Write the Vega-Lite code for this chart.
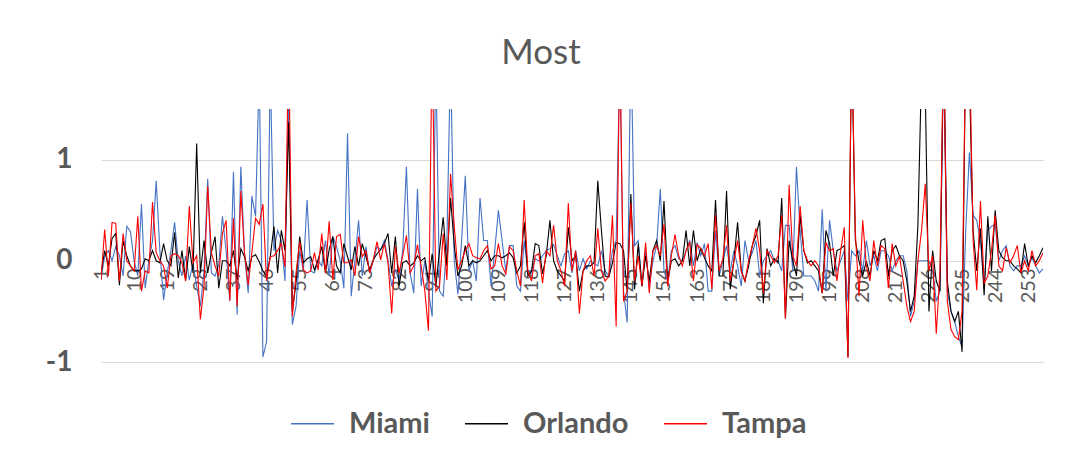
{
  "$schema": "https://vega.github.io/schema/vega-lite/v6.json",
  "width": 942,
  "height": 253,
  "autosize": {"type": "none"},
  "padding": {"left": 101, "top": 109, "right": 27, "bottom": 101},
  "background": "white",
  "config": {"view": {"stroke": null}, "font": "Lato"},
  "title": {"text": "Most", "fontSize": 35, "font": "Lato", "fontWeight": "normal", "color": "#595959", "offset": 38, "dx": -31},
  "data": {"values": [
{"i":1,"Miami":-0.19,"Orlando":-0.12,"Tampa":-0.19},
{"i":2,"Miami":0.05,"Orlando":0.1,"Tampa":0.31},
{"i":3,"Miami":0.1,"Orlando":-0.05,"Tampa":-0.15},
{"i":4,"Miami":0.0,"Orlando":0.22,"Tampa":0.38},
{"i":5,"Miami":0.14,"Orlando":0.27,"Tampa":0.37},
{"i":6,"Miami":0.05,"Orlando":-0.24,"Tampa":-0.2},
{"i":7,"Miami":-0.15,"Orlando":0.2,"Tampa":0.27},
{"i":8,"Miami":0.34,"Orlando":0.05,"Tampa":0.0},
{"i":9,"Miami":0.29,"Orlando":-0.05,"Tampa":-0.05},
{"i":10,"Miami":0.0,"Orlando":-0.1,"Tampa":-0.1},
{"i":11,"Miami":-0.15,"Orlando":-0.1,"Tampa":0.44},
{"i":12,"Miami":0.56,"Orlando":-0.08,"Tampa":-0.3},
{"i":13,"Miami":-0.27,"Orlando":0.02,"Tampa":-0.1},
{"i":14,"Miami":0.0,"Orlando":0.0,"Tampa":-0.12},
{"i":15,"Miami":0.2,"Orlando":0.1,"Tampa":0.58},
{"i":16,"Miami":0.79,"Orlando":0.0,"Tampa":0.08},
{"i":17,"Miami":0.1,"Orlando":-0.02,"Tampa":0.0},
{"i":18,"Miami":-0.39,"Orlando":0.17,"Tampa":-0.05},
{"i":19,"Miami":-0.12,"Orlando":0.0,"Tampa":-0.27},
{"i":20,"Miami":0.1,"Orlando":-0.05,"Tampa":0.05},
{"i":21,"Miami":0.38,"Orlando":0.28,"Tampa":0.07},
{"i":22,"Miami":0.0,"Orlando":-0.17,"Tampa":0.05},
{"i":23,"Miami":-0.15,"Orlando":0.1,"Tampa":-0.02},
{"i":24,"Miami":0.05,"Orlando":-0.19,"Tampa":-0.2},
{"i":25,"Miami":-0.19,"Orlando":0.14,"Tampa":0.54},
{"i":26,"Miami":-0.03,"Orlando":-0.12,"Tampa":-0.02},
{"i":27,"Miami":-0.25,"Orlando":1.16,"Tampa":0.05},
{"i":28,"Miami":-0.45,"Orlando":-0.12,"Tampa":-0.58},
{"i":29,"Miami":-0.1,"Orlando":0.2,"Tampa":-0.25},
{"i":30,"Miami":0.81,"Orlando":-0.12,"Tampa":0.74},
{"i":31,"Miami":-0.12,"Orlando":0.08,"Tampa":0.08},
{"i":32,"Miami":-0.15,"Orlando":0.24,"Tampa":-0.05},
{"i":33,"Miami":-0.04,"Orlando":-0.27,"Tampa":-0.15},
{"i":34,"Miami":0.44,"Orlando":0.0,"Tampa":0.27},
{"i":35,"Miami":0.1,"Orlando":0.0,"Tampa":0.4},
{"i":36,"Miami":-0.4,"Orlando":-0.05,"Tampa":-0.39},
{"i":37,"Miami":0.88,"Orlando":0.1,"Tampa":0.42},
{"i":38,"Miami":-0.53,"Orlando":-0.19,"Tampa":-0.45},
{"i":39,"Miami":0.93,"Orlando":0.12,"Tampa":0.69},
{"i":40,"Miami":0.07,"Orlando":0.04,"Tampa":0.08},
{"i":41,"Miami":-0.32,"Orlando":-0.1,"Tampa":-0.24},
{"i":42,"Miami":0.64,"Orlando":0.04,"Tampa":0.08},
{"i":43,"Miami":0.44,"Orlando":0.06,"Tampa":0.42},
{"i":44,"Miami":1.9,"Orlando":-0.01,"Tampa":0.36},
{"i":45,"Miami":-0.95,"Orlando":-0.1,"Tampa":0.56},
{"i":46,"Miami":-0.8,"Orlando":-0.15,"Tampa":-0.2},
{"i":47,"Miami":1.9,"Orlando":0.04,"Tampa":0.04},
{"i":48,"Miami":0.1,"Orlando":0.34,"Tampa":0.05},
{"i":49,"Miami":0.3,"Orlando":-0.12,"Tampa":0.1},
{"i":50,"Miami":0.2,"Orlando":0.3,"Tampa":0.17},
{"i":51,"Miami":-0.2,"Orlando":0.1,"Tampa":-0.06},
{"i":52,"Miami":1.7,"Orlando":1.37,"Tampa":2.2},
{"i":53,"Miami":-0.63,"Orlando":-0.5,"Tampa":-0.55},
{"i":54,"Miami":-0.45,"Orlando":-0.22,"Tampa":-0.12},
{"i":55,"Miami":0.1,"Orlando":0.24,"Tampa":0.19},
{"i":56,"Miami":-0.1,"Orlando":-0.02,"Tampa":-0.09},
{"i":57,"Miami":0.6,"Orlando":0.02,"Tampa":-0.12},
{"i":58,"Miami":-0.1,"Orlando":0.04,"Tampa":-0.1},
{"i":59,"Miami":-0.12,"Orlando":-0.09,"Tampa":0.08},
{"i":60,"Miami":0.0,"Orlando":0.01,"Tampa":-0.09},
{"i":61,"Miami":-0.05,"Orlando":0.14,"Tampa":0.27},
{"i":62,"Miami":0.2,"Orlando":-0.12,"Tampa":-0.12},
{"i":63,"Miami":-0.15,"Orlando":0.11,"Tampa":0.39},
{"i":64,"Miami":0.24,"Orlando":0.24,"Tampa":-0.19},
{"i":65,"Miami":0.14,"Orlando":-0.05,"Tampa":0.24},
{"i":66,"Miami":0.0,"Orlando":-0.12,"Tampa":0.26},
{"i":67,"Miami":-0.27,"Orlando":0.17,"Tampa":-0.02},
{"i":68,"Miami":1.26,"Orlando":0.04,"Tampa":-0.02},
{"i":69,"Miami":-0.35,"Orlando":-0.09,"Tampa":0.01},
{"i":70,"Miami":0.0,"Orlando":0.14,"Tampa":-0.15},
{"i":71,"Miami":0.4,"Orlando":-0.05,"Tampa":0.24},
{"i":72,"Miami":-0.15,"Orlando":0.17,"Tampa":0.04},
{"i":73,"Miami":0.14,"Orlando":0.04,"Tampa":0.1},
{"i":74,"Miami":-0.12,"Orlando":-0.09,"Tampa":-0.12},
{"i":75,"Miami":0.0,"Orlando":0.01,"Tampa":0.01},
{"i":76,"Miami":0.14,"Orlando":0.07,"Tampa":0.19},
{"i":77,"Miami":0.11,"Orlando":0.11,"Tampa":0.01},
{"i":78,"Miami":0.2,"Orlando":0.17,"Tampa":0.17},
{"i":79,"Miami":0.01,"Orlando":0.27,"Tampa":-0.02},
{"i":80,"Miami":-0.25,"Orlando":-0.12,"Tampa":-0.52},
{"i":81,"Miami":-0.09,"Orlando":0.24,"Tampa":0.14},
{"i":82,"Miami":-0.19,"Orlando":-0.25,"Tampa":-0.12},
{"i":83,"Miami":0.1,"Orlando":-0.02,"Tampa":0.05},
{"i":84,"Miami":0.93,"Orlando":0.0,"Tampa":0.25},
{"i":85,"Miami":-0.12,"Orlando":-0.05,"Tampa":-0.12},
{"i":86,"Miami":-0.32,"Orlando":-0.02,"Tampa":-0.05},
{"i":87,"Miami":0.71,"Orlando":0.05,"Tampa":0.16},
{"i":88,"Miami":-0.25,"Orlando":0.0,"Tampa":-0.05},
{"i":89,"Miami":0.0,"Orlando":0.03,"Tampa":-0.3},
{"i":90,"Miami":-0.3,"Orlando":-0.2,"Tampa":-0.69},
{"i":91,"Miami":-0.55,"Orlando":0.07,"Tampa":2.2},
{"i":92,"Miami":2.0,"Orlando":-0.25,"Tampa":-0.3},
{"i":93,"Miami":-0.3,"Orlando":0.1,"Tampa":-0.25},
{"i":94,"Miami":-0.35,"Orlando":0.43,"Tampa":0.27},
{"i":95,"Miami":0.2,"Orlando":-0.05,"Tampa":-0.19},
{"i":96,"Miami":2.0,"Orlando":0.62,"Tampa":0.86},
{"i":97,"Miami":0.0,"Orlando":0.15,"Tampa":0.34},
{"i":98,"Miami":-0.33,"Orlando":-0.15,"Tampa":-0.09},
{"i":99,"Miami":0.2,"Orlando":-0.05,"Tampa":0.0},
{"i":100,"Miami":0.84,"Orlando":0.15,"Tampa":0.1},
{"i":101,"Miami":-0.1,"Orlando":-0.05,"Tampa":0.17},
{"i":102,"Miami":0.0,"Orlando":0.0,"Tampa":0.05},
{"i":103,"Miami":-0.2,"Orlando":-0.02,"Tampa":0.03},
{"i":104,"Miami":0.62,"Orlando":0.0,"Tampa":0.02},
{"i":105,"Miami":0.2,"Orlando":0.05,"Tampa":0.1},
{"i":106,"Miami":0.2,"Orlando":0.1,"Tampa":0.15},
{"i":107,"Miami":-0.25,"Orlando":0.0,"Tampa":-0.08},
{"i":108,"Miami":0.1,"Orlando":0.05,"Tampa":-0.05},
{"i":109,"Miami":0.5,"Orlando":0.05,"Tampa":0.17},
{"i":110,"Miami":0.2,"Orlando":0.03,"Tampa":-0.05},
{"i":111,"Miami":-0.1,"Orlando":0.05,"Tampa":-0.13},
{"i":112,"Miami":0.15,"Orlando":0.08,"Tampa":0.14},
{"i":113,"Miami":0.15,"Orlando":0.03,"Tampa":0.1},
{"i":114,"Miami":-0.25,"Orlando":-0.12,"Tampa":-0.1},
{"i":115,"Miami":-0.3,"Orlando":-0.05,"Tampa":-0.25},
{"i":116,"Miami":0.2,"Orlando":0.38,"Tampa":0.6},
{"i":117,"Miami":-0.1,"Orlando":-0.15,"Tampa":-0.1},
{"i":118,"Miami":-0.1,"Orlando":-0.1,"Tampa":-0.2},
{"i":119,"Miami":0.02,"Orlando":0.17,"Tampa":0.05},
{"i":120,"Miami":0.0,"Orlando":0.15,"Tampa":0.07},
{"i":121,"Miami":0.05,"Orlando":-0.13,"Tampa":-0.22},
{"i":122,"Miami":0.1,"Orlando":0.05,"Tampa":0.1},
{"i":123,"Miami":0.12,"Orlando":0.4,"Tampa":0.05},
{"i":124,"Miami":0.16,"Orlando":0.0,"Tampa":0.35},
{"i":125,"Miami":0.05,"Orlando":-0.1,"Tampa":0.0},
{"i":126,"Miami":-0.05,"Orlando":-0.15,"Tampa":-0.1},
{"i":127,"Miami":0.07,"Orlando":-0.2,"Tampa":-0.25},
{"i":128,"Miami":0.1,"Orlando":0.33,"Tampa":0.57},
{"i":129,"Miami":-0.12,"Orlando":0.0,"Tampa":-0.1},
{"i":130,"Miami":0.1,"Orlando":0.05,"Tampa":0.1},
{"i":131,"Miami":-0.1,"Orlando":-0.3,"Tampa":-0.52},
{"i":132,"Miami":0.02,"Orlando":-0.1,"Tampa":-0.1},
{"i":133,"Miami":-0.08,"Orlando":-0.05,"Tampa":0.0},
{"i":134,"Miami":0.0,"Orlando":-0.05,"Tampa":0.05},
{"i":135,"Miami":-0.03,"Orlando":-0.02,"Tampa":-0.15},
{"i":136,"Miami":-0.05,"Orlando":0.79,"Tampa":0.32},
{"i":137,"Miami":0.1,"Orlando":0.3,"Tampa":-0.1},
{"i":138,"Miami":-0.1,"Orlando":-0.15,"Tampa":-0.2},
{"i":139,"Miami":-0.15,"Orlando":-0.16,"Tampa":-0.15},
{"i":140,"Miami":0.1,"Orlando":-0.02,"Tampa":0.45},
{"i":141,"Miami":0.2,"Orlando":0.18,"Tampa":-0.65},
{"i":142,"Miami":2.0,"Orlando":0.17,"Tampa":2.2},
{"i":143,"Miami":-0.3,"Orlando":0.1,"Tampa":-0.4},
{"i":144,"Miami":-0.61,"Orlando":-0.3,"Tampa":-0.3},
{"i":145,"Miami":2.2,"Orlando":0.66,"Tampa":0.57},
{"i":146,"Miami":0.15,"Orlando":-0.28,"Tampa":-0.2},
{"i":147,"Miami":0.2,"Orlando":0.17,"Tampa":0.05},
{"i":148,"Miami":-0.25,"Orlando":-0.25,"Tampa":-0.25},
{"i":149,"Miami":0.1,"Orlando":0.05,"Tampa":0.18},
{"i":150,"Miami":-0.25,"Orlando":-0.2,"Tampa":-0.32},
{"i":151,"Miami":0.0,"Orlando":0.1,"Tampa":0.1},
{"i":152,"Miami":0.15,"Orlando":0.2,"Tampa":0.15},
{"i":153,"Miami":0.71,"Orlando":0.0,"Tampa":0.05},
{"i":154,"Miami":-0.1,"Orlando":0.59,"Tampa":0.36},
{"i":155,"Miami":-0.2,"Orlando":-0.2,"Tampa":-0.25},
{"i":156,"Miami":0.1,"Orlando":0.0,"Tampa":0.05},
{"i":157,"Miami":0.15,"Orlando":0.02,"Tampa":0.26},
{"i":158,"Miami":0.02,"Orlando":-0.05,"Tampa":0.05},
{"i":159,"Miami":0.0,"Orlando":0.0,"Tampa":-0.05},
{"i":160,"Miami":0.1,"Orlando":0.3,"Tampa":0.1},
{"i":161,"Miami":0.2,"Orlando":-0.05,"Tampa":0.18},
{"i":162,"Miami":-0.05,"Orlando":0.3,"Tampa":-0.2},
{"i":163,"Miami":0.18,"Orlando":0.0,"Tampa":0.16},
{"i":164,"Miami":0.05,"Orlando":0.12,"Tampa":0.12},
{"i":165,"Miami":0.17,"Orlando":0.03,"Tampa":0.05},
{"i":166,"Miami":-0.3,"Orlando":-0.05,"Tampa":0.17},
{"i":167,"Miami":-0.3,"Orlando":-0.1,"Tampa":-0.28},
{"i":168,"Miami":0.3,"Orlando":0.6,"Tampa":0.45},
{"i":169,"Miami":-0.15,"Orlando":-0.15,"Tampa":-0.1},
{"i":170,"Miami":0.0,"Orlando":-0.15,"Tampa":0.02},
{"i":171,"Miami":0.15,"Orlando":0.69,"Tampa":0.35},
{"i":172,"Miami":-0.1,"Orlando":-0.28,"Tampa":-0.2},
{"i":173,"Miami":0.1,"Orlando":0.0,"Tampa":0.0},
{"i":174,"Miami":-0.05,"Orlando":0.38,"Tampa":0.2},
{"i":175,"Miami":-0.25,"Orlando":-0.1,"Tampa":-0.1},
{"i":176,"Miami":0.2,"Orlando":-0.2,"Tampa":-0.2},
{"i":177,"Miami":0.0,"Orlando":-0.05,"Tampa":0.0},
{"i":178,"Miami":0.08,"Orlando":0.15,"Tampa":0.15},
{"i":179,"Miami":0.2,"Orlando":0.25,"Tampa":0.32},
{"i":180,"Miami":-0.15,"Orlando":0.4,"Tampa":0.1},
{"i":181,"Miami":0.0,"Orlando":-0.42,"Tampa":-0.32},
{"i":182,"Miami":0.05,"Orlando":0.12,"Tampa":0.1},
{"i":183,"Miami":0.1,"Orlando":-0.05,"Tampa":0.05},
{"i":184,"Miami":0.0,"Orlando":0.02,"Tampa":-0.02},
{"i":185,"Miami":0.0,"Orlando":-0.02,"Tampa":0.05},
{"i":186,"Miami":-0.1,"Orlando":0.62,"Tampa":0.45},
{"i":187,"Miami":0.35,"Orlando":-0.57,"Tampa":-0.57},
{"i":188,"Miami":0.35,"Orlando":0.2,"Tampa":0.75},
{"i":189,"Miami":-0.1,"Orlando":0.0,"Tampa":0.05},
{"i":190,"Miami":0.93,"Orlando":-0.15,"Tampa":-0.05},
{"i":191,"Miami":0.3,"Orlando":0.45,"Tampa":0.54},
{"i":192,"Miami":-0.15,"Orlando":0.1,"Tampa":0.1},
{"i":193,"Miami":-0.15,"Orlando":-0.02,"Tampa":0.0},
{"i":194,"Miami":-0.15,"Orlando":0.0,"Tampa":-0.05},
{"i":195,"Miami":-0.2,"Orlando":-0.05,"Tampa":0.0},
{"i":196,"Miami":-0.3,"Orlando":-0.1,"Tampa":-0.05},
{"i":197,"Miami":0.51,"Orlando":-0.32,"Tampa":-0.32},
{"i":198,"Miami":-0.3,"Orlando":0.3,"Tampa":0.18},
{"i":199,"Miami":0.4,"Orlando":0.17,"Tampa":0.1},
{"i":200,"Miami":0.1,"Orlando":-0.15,"Tampa":0.12},
{"i":201,"Miami":-0.1,"Orlando":0.1,"Tampa":-0.2},
{"i":202,"Miami":0.0,"Orlando":0.12,"Tampa":0.1},
{"i":203,"Miami":0.1,"Orlando":0.15,"Tampa":0.33},
{"i":204,"Miami":-0.4,"Orlando":-0.95,"Tampa":-0.96},
{"i":205,"Miami":0.1,"Orlando":2.2,"Tampa":2.2},
{"i":206,"Miami":0.05,"Orlando":0.2,"Tampa":0.28},
{"i":207,"Miami":0.1,"Orlando":0.0,"Tampa":-0.35},
{"i":208,"Miami":-0.1,"Orlando":-0.15,"Tampa":0.4},
{"i":209,"Miami":0.2,"Orlando":0.0,"Tampa":-0.05},
{"i":210,"Miami":-0.05,"Orlando":-0.15,"Tampa":-0.2},
{"i":211,"Miami":0.05,"Orlando":0.1,"Tampa":0.2},
{"i":212,"Miami":-0.1,"Orlando":0.0,"Tampa":-0.05},
{"i":213,"Miami":0.1,"Orlando":0.2,"Tampa":0.15},
{"i":214,"Miami":0.1,"Orlando":0.22,"Tampa":0.12},
{"i":215,"Miami":0.05,"Orlando":-0.15,"Tampa":-0.27},
{"i":216,"Miami":-0.1,"Orlando":0.1,"Tampa":0.17},
{"i":217,"Miami":0.0,"Orlando":0.15,"Tampa":-0.05},
{"i":218,"Miami":0.05,"Orlando":0.05,"Tampa":0.05},
{"i":219,"Miami":0.05,"Orlando":0.0,"Tampa":-0.2},
{"i":220,"Miami":-0.1,"Orlando":-0.2,"Tampa":-0.45},
{"i":221,"Miami":-0.55,"Orlando":-0.5,"Tampa":-0.6},
{"i":222,"Miami":-0.4,"Orlando":-0.35,"Tampa":-0.5},
{"i":223,"Miami":0.0,"Orlando":0.35,"Tampa":0.0},
{"i":224,"Miami":0.0,"Orlando":1.9,"Tampa":0.3},
{"i":225,"Miami":0.0,"Orlando":1.7,"Tampa":0.76},
{"i":226,"Miami":0.0,"Orlando":-0.5,"Tampa":-0.1},
{"i":227,"Miami":-0.1,"Orlando":0.1,"Tampa":0.05},
{"i":228,"Miami":-0.4,"Orlando":-0.2,"Tampa":-0.72},
{"i":229,"Miami":-0.3,"Orlando":-0.3,"Tampa":-0.1},
{"i":230,"Miami":2.0,"Orlando":2.2,"Tampa":2.2},
{"i":231,"Miami":-0.3,"Orlando":-0.2,"Tampa":-0.4},
{"i":232,"Miami":-0.5,"Orlando":-0.5,"Tampa":-0.68},
{"i":233,"Miami":-0.6,"Orlando":-0.6,"Tampa":-0.75},
{"i":234,"Miami":-0.75,"Orlando":-0.5,"Tampa":-0.78},
{"i":235,"Miami":-0.85,"Orlando":-0.9,"Tampa":-0.5},
{"i":236,"Miami":0.3,"Orlando":2.2,"Tampa":2.2},
{"i":237,"Miami":1.07,"Orlando":1.8,"Tampa":2.2},
{"i":238,"Miami":0.45,"Orlando":0.3,"Tampa":0.2},
{"i":239,"Miami":0.4,"Orlando":-0.1,"Tampa":-0.29},
{"i":240,"Miami":0.2,"Orlando":0.32,"Tampa":0.59},
{"i":241,"Miami":-0.25,"Orlando":-0.34,"Tampa":-0.22},
{"i":242,"Miami":0.3,"Orlando":0.44,"Tampa":-0.15},
{"i":243,"Miami":0.34,"Orlando":-0.1,"Tampa":0.1},
{"i":244,"Miami":0.36,"Orlando":0.5,"Tampa":0.45},
{"i":245,"Miami":0.0,"Orlando":0.1,"Tampa":-0.05},
{"i":246,"Miami":0.1,"Orlando":0.03,"Tampa":-0.1},
{"i":247,"Miami":0.15,"Orlando":0.0,"Tampa":0.13},
{"i":248,"Miami":-0.05,"Orlando":0.0,"Tampa":-0.02},
{"i":249,"Miami":-0.1,"Orlando":-0.05,"Tampa":0.05},
{"i":250,"Miami":-0.05,"Orlando":-0.08,"Tampa":0.15},
{"i":251,"Miami":-0.05,"Orlando":-0.12,"Tampa":-0.12},
{"i":252,"Miami":0.05,"Orlando":0.17,"Tampa":0.0},
{"i":253,"Miami":-0.05,"Orlando":-0.05,"Tampa":-0.1},
{"i":254,"Miami":0.03,"Orlando":0.05,"Tampa":0.1},
{"i":255,"Miami":-0.05,"Orlando":-0.02,"Tampa":-0.05},
{"i":256,"Miami":-0.12,"Orlando":0.05,"Tampa":0.0},
{"i":257,"Miami":-0.08,"Orlando":0.13,"Tampa":0.08}
  ]},
  "transform": [{"fold": ["Miami", "Orlando", "Tampa"], "as": ["city", "v"]}],
  "mark": {"type": "line", "strokeWidth": 1.1, "clip": true},
  "encoding": {
    "x": {
      "field": "i", "type": "quantitative",
      "scale": {"domain": [1, 257], "nice": false, "zero": false},
      "axis": {
        "title": null, "offset": -101, "grid": false, "ticks": false,
        "values": [1,10,19,28,37,46,55,64,73,82,91,100,109,118,127,136,145,154,163,172,181,190,199,208,217,226,235,244,253],
        "labelAngle": -90, "labelFontSize": 20, "labelFont": "Lato", "labelColor": "#595959",
        "labelPadding": 7, "labelFlush": false, "labelOverlap": false,
        "domainColor": "#d9d9d9", "domainWidth": 1
      }
    },
    "y": {
      "field": "v", "type": "quantitative",
      "scale": {"domain": [-1, 1.5], "nice": false, "zero": false},
      "axis": {
        "title": null, "values": [-1, 0, 1], "grid": true, "gridColor": "#d9d9d9", "gridWidth": 1,
        "domain": false, "ticks": false,
        "labelExpr": "replace(datum.label, '\u2212', '-')",
        "labelFontSize": 28, "labelFont": "Lato", "labelFontWeight": "bold", "labelColor": "#595959",
        "labelPadding": 29
      }
    },
    "color": {
      "field": "city", "type": "nominal",
      "scale": {"domain": ["Miami", "Orlando", "Tampa"], "range": ["#4472C4", "#000000", "#FF0000"]},
      "legend": {
        "title": null, "orient": "none", "direction": "horizontal", "legendX": 189, "legendY": 292,
        "symbolType": "stroke", "symbolSize": 1849, "symbolStrokeWidth": 1.5,
        "labelFontSize": 29, "labelFont": "Lato", "labelFontWeight": "bold", "labelColor": "#595959",
        "labelOffset": 14, "columnPadding": 32, "padding": 0
      }
    }
  }
}
